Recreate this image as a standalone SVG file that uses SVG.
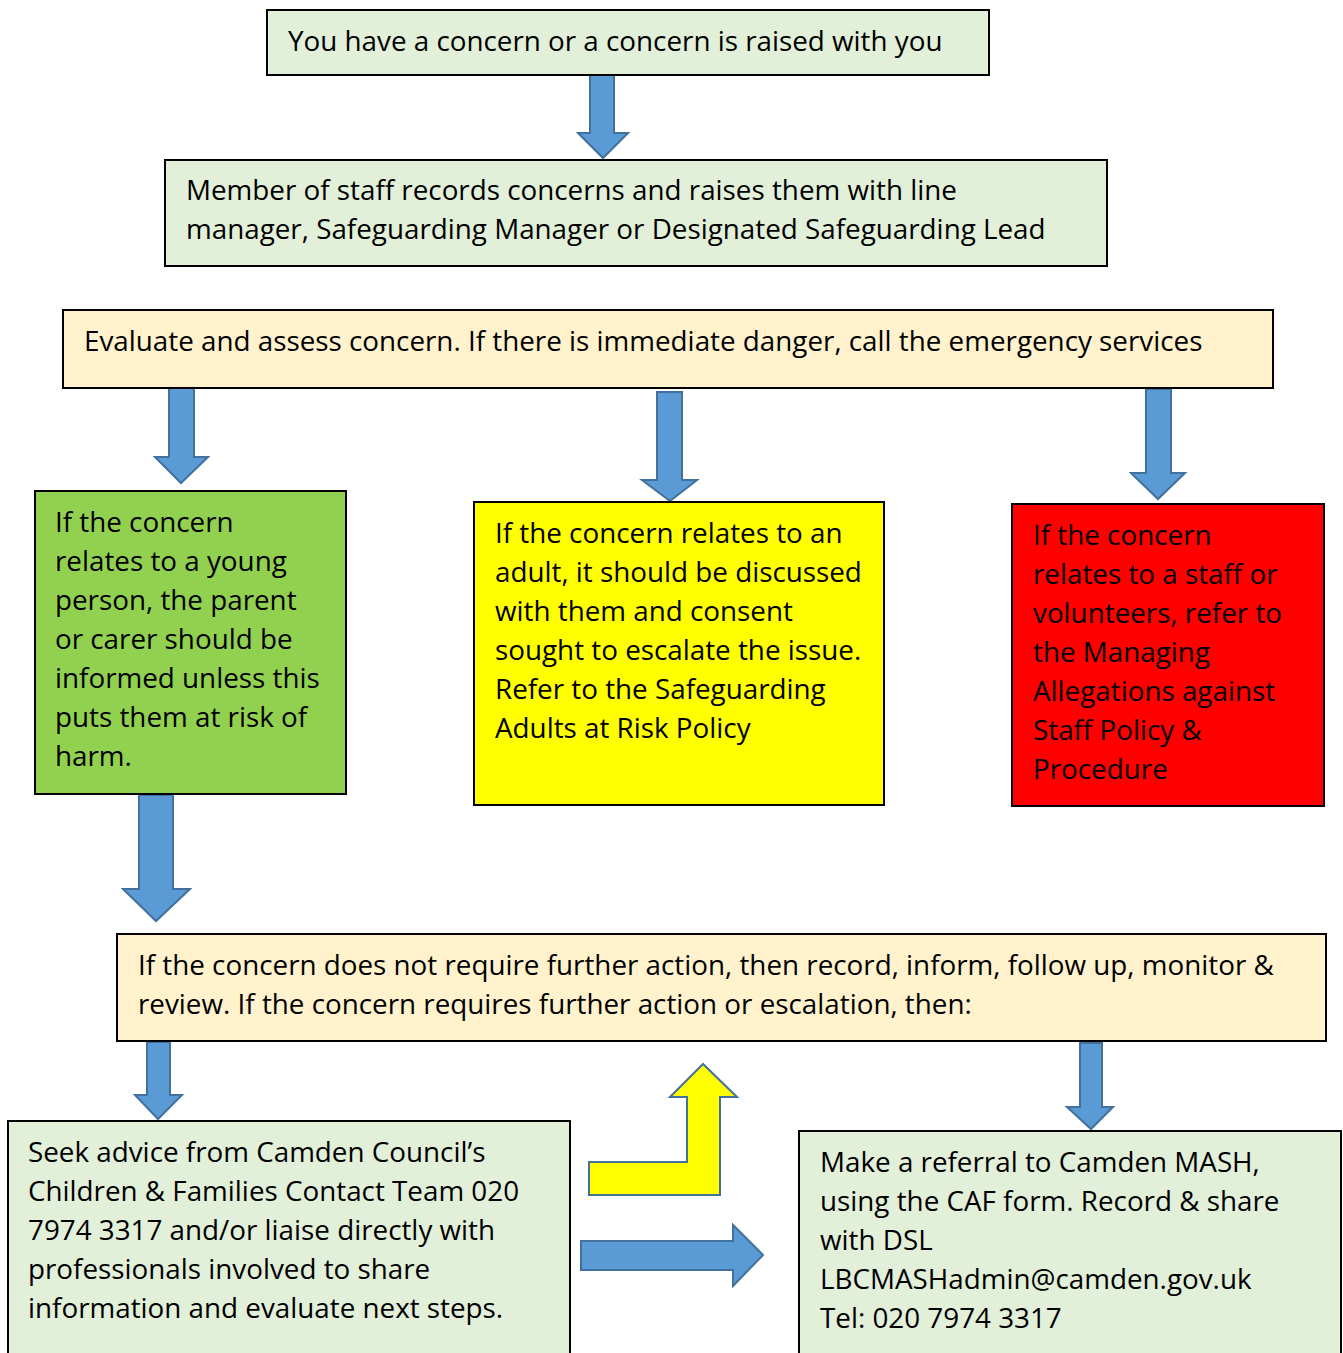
<svg xmlns="http://www.w3.org/2000/svg" width="1343" height="1353" viewBox="0 0 1343 1353">
<style>
.box{stroke:#000;stroke-width:2}
.g{fill:#E2EFD9}
.o{fill:#FFF2CC}
.t{font-family:"Open Sans","Liberation Sans",sans-serif;font-size:27.8px;fill:#000}
.arr{fill:#5B9BD5;stroke:#41719C;stroke-width:2;stroke-linejoin:miter}
.yarr{fill:#FFFF00;stroke:#41719C;stroke-width:2}
</style>
<rect width="1343" height="1353" fill="#fff"/>
<g id="connectors">
<polygon class="arr" points="590,74 614,74 614,133 628,133 603,158 578,133 590,133"/>
<polygon class="arr" points="169,387 194,387 194,457 208,457 181,483 155,457 169,457"/>
<polygon class="arr" points="657,392 682,392 682,480 697,480 670,501 642,480 657,480"/>
<polygon class="arr" points="1146,389 1171,389 1171,473 1185,473 1158,499 1131,473 1146,473"/>
<polygon class="arr" points="139,795 173,795 173,889 190,889 156,921 123,889 139,889"/>
<polygon class="arr" points="147,1042 170,1042 170,1095 182,1095 158,1119 135,1095 147,1095"/>
<polygon class="arr" points="1080,1043 1102,1043 1102,1107 1113,1107 1091,1129 1067,1107 1080,1107"/>
<polygon class="yarr" points="589,1162 687,1162 687,1097 670,1097 703,1064 737,1097 720,1097 720,1195 589,1195"/>
<polygon class="arr" points="581,1241 733,1241 733,1225 763,1255 733,1286 733,1270 581,1270"/>
</g>
<g id="n1">
<rect class="box g" x="267" y="10" width="722" height="65"/>
<text class="t" x="288" y="51">You have a concern or a concern is raised with you</text>
</g>
<g id="n2">
<rect class="box g" x="165" y="160" width="942" height="106"/>
<text class="t" x="186" y="200">Member of staff records concerns and raises them with line</text>
<text class="t" x="186" y="239">manager, Safeguarding Manager or Designated Safeguarding Lead</text>
</g>
<g id="n3">
<rect class="box o" x="63" y="310" width="1210" height="78"/>
<text class="t" x="84" y="351">Evaluate and assess concern. If there is immediate danger, call the emergency services</text>
</g>
<g id="n4">
<rect class="box" fill="#92D050" x="35" y="491" width="311" height="303"/>
<text class="t" x="55" y="532">If the concern</text>
<text class="t" x="55" y="571">relates to a young</text>
<text class="t" x="55" y="610">person, the parent</text>
<text class="t" x="55" y="649">or carer should be</text>
<text class="t" x="55" y="688">informed unless this</text>
<text class="t" x="55" y="727">puts them at risk of</text>
<text class="t" x="55" y="766">harm.</text>
</g>
<g id="n5">
<rect class="box" fill="#FFFF00" x="474" y="502" width="410" height="303"/>
<text class="t" x="495" y="543">If the concern relates to an</text>
<text class="t" x="495" y="582">adult, it should be discussed</text>
<text class="t" x="495" y="621">with them and consent</text>
<text class="t" x="495" y="660">sought to escalate the issue.</text>
<text class="t" x="495" y="699">Refer to the Safeguarding</text>
<text class="t" x="495" y="738">Adults at Risk Policy</text>
</g>
<g id="n6">
<rect class="box" fill="#FF0000" x="1012" y="504" width="312" height="302"/>
<text class="t" x="1033" y="545">If the concern</text>
<text class="t" x="1033" y="584">relates to a staff or</text>
<text class="t" x="1033" y="623">volunteers, refer to</text>
<text class="t" x="1033" y="662">the Managing</text>
<text class="t" x="1033" y="701">Allegations against</text>
<text class="t" x="1033" y="740">Staff Policy &amp;</text>
<text class="t" x="1033" y="779">Procedure</text>
</g>
<g id="n7">
<rect class="box o" x="117" y="934" width="1209" height="107"/>
<text class="t" x="138" y="975">If the concern does not require further action, then record, inform, follow up, monitor &amp;</text>
<text class="t" x="138" y="1014">review. If the concern requires further action or escalation, then:</text>
</g>
<g id="n8">
<rect class="box g" x="8" y="1121" width="562" height="240"/>
<text class="t" x="28" y="1162">Seek advice from Camden Council’s</text>
<text class="t" x="28" y="1201">Children &amp; Families Contact Team 020</text>
<text class="t" x="28" y="1240">7974 3317 and/or liaise directly with</text>
<text class="t" x="28" y="1279">professionals involved to share</text>
<text class="t" x="28" y="1318">information and evaluate next steps.</text>
</g>
<g id="n9">
<rect class="box g" x="799" y="1131" width="542" height="230"/>
<text class="t" x="820" y="1172">Make a referral to Camden MASH,</text>
<text class="t" x="820" y="1211">using the CAF form. Record &amp; share</text>
<text class="t" x="820" y="1250">with DSL</text>
<text class="t" x="820" y="1289">LBCMASHadmin@camden.gov.uk</text>
<text class="t" x="820" y="1328">Tel: 020 7974 3317</text>
</g>
</svg>
